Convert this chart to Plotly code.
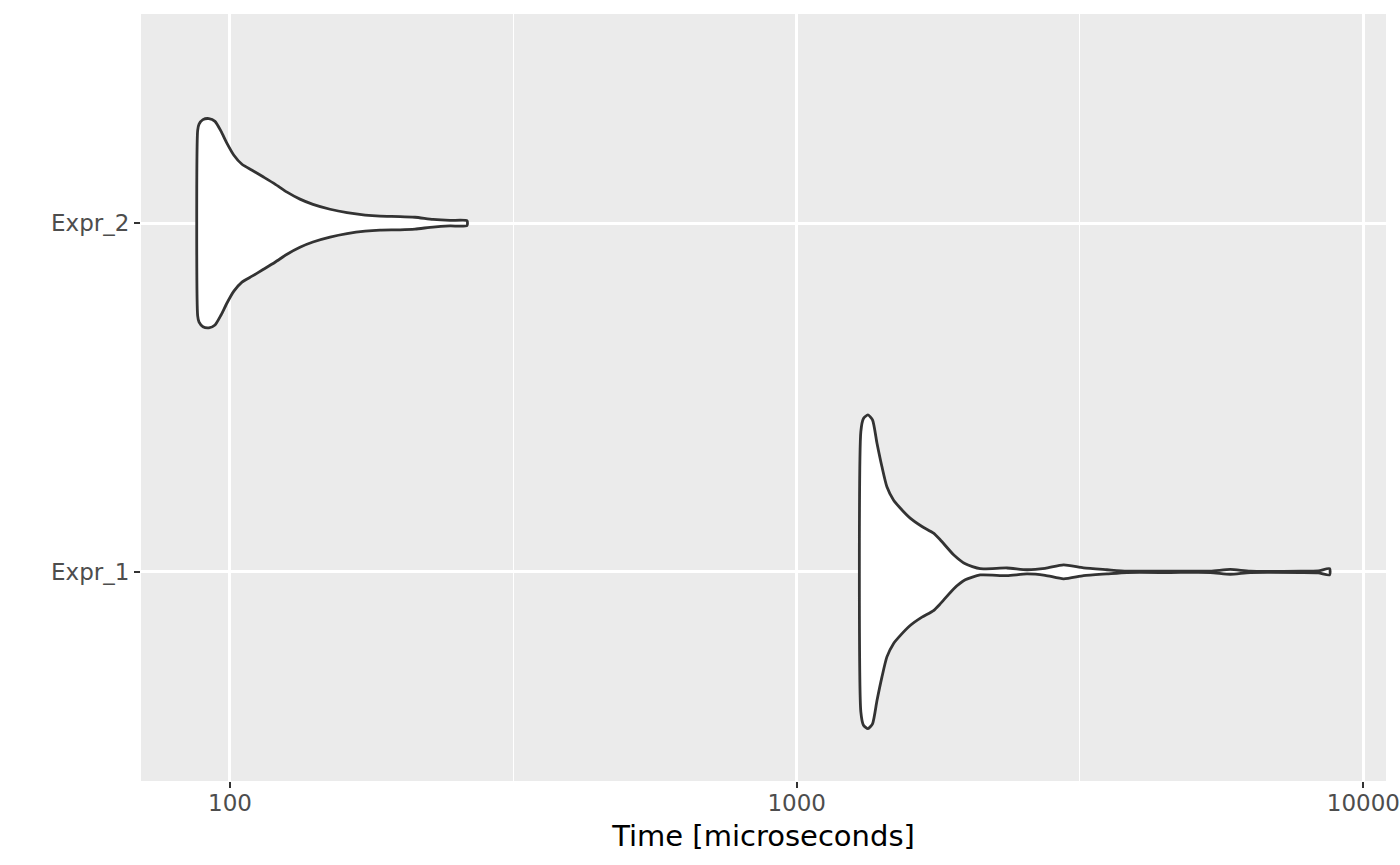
import plotly.graph_objects as go

# category labels and their positions on the y axis
categories = ["Expr_1", "Expr_2"]
positions = [1, 2]

# violin outline for Expr_1: time (microseconds) and half-width of the density
expr1_time = [1298, 1312, 1336, 1361, 1386, 1414, 1443, 1482, 1523, 1586, 1664,
              1744, 1792, 1892, 1984, 2108, 2350, 2549, 2745, 2958, 3208, 3528,
              3828, 4564, 5370, 5824, 6317, 7743, 8328, 8719]
expr1_half = [0.402, 0.440, 0.450, 0.436, 0.369, 0.302, 0.244, 0.206, 0.183, 0.154,
              0.130, 0.111, 0.092, 0.049, 0.023, 0.009, 0.011, 0.006, 0.010, 0.020,
              0.011, 0.006, 0.002, 0.002, 0.002, 0.007, 0.002, 0.002, 0.003, 0.009]

# violin outline for Expr_2
expr2_time = [87.7, 88.2, 89.6, 91.8, 94.1, 96.4, 98.8, 101.6, 105.0, 109.4, 114.4,
              120.1, 126.1, 132.9, 140.1, 150.2, 160.9, 173.2, 184.0, 199.6, 212.1,
              228.2, 244.5, 262.0]
expr2_half = [0.266, 0.284, 0.297, 0.300, 0.292, 0.264, 0.229, 0.195, 0.169, 0.152,
              0.133, 0.112, 0.089, 0.069, 0.054, 0.040, 0.030, 0.023, 0.020, 0.019,
              0.017, 0.011, 0.008, 0.007]

x_ticks = [100, 1000, 10000]
x_minor = [10 ** 1.5, 10 ** 2.5, 10 ** 3.5]

fig = go.Figure()

for pos, times, half in [(1, expr1_time, expr1_half), (2, expr2_time, expr2_half)]:
    xs = times + times[::-1] + [times[0]]
    ys = [pos + h for h in half] + [pos - h for h in half[::-1]] + [pos + half[0]]
    fig.add_trace(go.Scatter(
        x=xs, y=ys,
        mode="lines",
        fill="toself",
        fillcolor="white",
        line=dict(color="#333333", width=2.8, shape="spline", smoothing=0.6),
        hoverinfo="skip",
        showlegend=False,
    ))

fig.update_layout(
    width=1400,
    height=865,
    margin=dict(l=141, r=14, t=14, b=84),
    paper_bgcolor="white",
    plot_bgcolor="#EBEBEB",
    font=dict(family="DejaVu Sans", color="#4D4D4D"),
    showlegend=False,
    xaxis=dict(
        type="log",
        range=[1.843, 4.040],
        automargin=False,
        tickvals=x_ticks,
        ticktext=[str(v) for v in x_ticks],
        ticks="outside",
        ticklen=6,
        tickwidth=2,
        tickcolor="#333333",
        tickfont=dict(size=23, color="#4D4D4D"),
        ticklabelstandoff=-5,
        showgrid=True,
        gridcolor="white",
        gridwidth=2.5,
        zeroline=False,
        showline=False,
        minor=dict(tickvals=x_minor, showgrid=True, gridcolor="white",
                   gridwidth=1.2, ticks=""),
        title=dict(text="Time [microseconds]", font=dict(size=29, color="black"),
                   standoff=11),
    ),
    yaxis=dict(
        range=[0.4, 2.6],
        automargin=False,
        tickvals=positions,
        ticktext=categories,
        ticks="outside",
        ticklen=6,
        tickwidth=2,
        tickcolor="#333333",
        tickfont=dict(size=23, color="#4D4D4D"),
        showgrid=True,
        gridcolor="white",
        gridwidth=2.5,
        zeroline=False,
        showline=False,
        ticklabelstandoff=0,
    ),
)

# drop the default page margin and redraw at full window size
post = (
    "document.body.style.margin = '0';"
    "var gd = document.getElementById('{plot_id}');"
    "gd.style.width = '1400px'; gd.style.height = '865px';"
    "Plotly.relayout(gd, {width: 1400, height: 865});"
)
fig.write_html("out.html", post_script=post, config={"displayModeBar": False})
